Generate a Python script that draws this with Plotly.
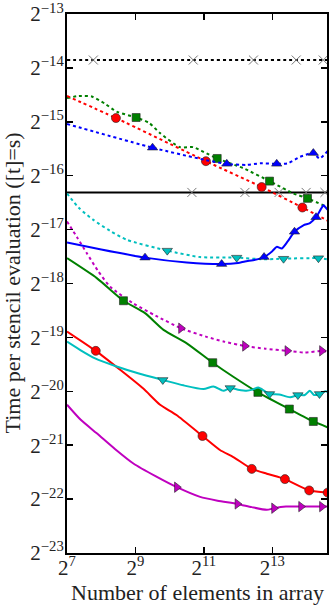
import numpy as np
import plotly.graph_objects as go

# ---- data (log2 of x = number of elements, log2 of y = time per stencil evaluation) ----
x_tick_exps = [7, 9, 11, 13]
y_tick_exps = list(range(-23, -12))

black_dot_x = [7.0, 7.77, 10.69, 12.45, 13.70, 14.49, 14.7]
black_dot_y = [-13.853, -13.853, -13.853, -13.853, -13.853, -13.853, -13.853]
black_dot_mk = [1, 2, 3, 4, 5]

black_sol_x = [7.0, 10.65, 12.20, 13.20, 13.99, 14.54, 14.7]
black_sol_y = [-16.31, -16.31, -16.31, -16.31, -16.31, -16.31, -16.31]
black_sol_mk = [1, 2, 3, 4, 5]

green_dot_x = [7.0, 7.35, 7.72, 8.1, 8.45, 9.02, 9.4, 9.72, 10.3, 10.69, 11.0, 11.39, 12.15, 12.92, 13.62, 14.03, 14.7]
green_dot_y = [-14.56, -14.52, -14.53, -14.66, -14.81, -14.92, -15.02, -15.21, -15.47, -15.47, -15.56, -15.68, -15.86, -16.10, -16.33, -16.42, -16.61]
green_dot_mk = [5, 11, 13, 15]

red_dot_x = [7.0, 8.43, 11.06, 12.69, 13.88, 14.7]
red_dot_y = [-14.52, -14.93, -15.73, -16.21, -16.59, -16.86]
red_dot_mk = [1, 2, 3, 4]

blue_dot_x = [7.0, 9.5, 11.06, 11.67, 12.25, 12.64, 13.13, 13.45, 13.81, 14.2, 14.38, 14.7]
blue_dot_y = [-15.04, -15.48, -15.71, -15.78, -15.80, -15.77, -15.78, -15.77, -15.65, -15.58, -15.68, -15.48]
blue_dot_mk = [1, 3, 6, 9]

cyan_dot_x = [7.0, 7.35, 7.77, 8.25, 8.75, 9.93, 10.89, 11.96, 12.74, 13.33, 14.35, 14.7]
cyan_dot_y = [-16.33, -16.6, -16.82, -17.02, -17.19, -17.39, -17.51, -17.52, -17.55, -17.54, -17.53, -17.56]
cyan_dot_mk = [5, 7, 9, 10]

magenta_dot_x = [7.0, 7.3, 7.58, 7.9, 8.26, 8.94, 9.6, 10.33, 11.08, 11.6, 12.2, 12.8, 13.44, 13.96, 14.45, 14.7]
magenta_dot_y = [-16.85, -17.15, -17.44, -17.76, -18.06, -18.37, -18.6, -18.83, -18.99, -19.08, -19.16, -19.21, -19.25, -19.28, -19.25, -19.28]
magenta_dot_mk = [7, 10, 12, 14]

blue_sol_x = [7.0, 8.0, 9.28, 10.5, 11.52, 12.0, 12.2, 12.5, 12.76, 13.0, 13.13, 13.28, 13.45, 13.65, 13.91, 14.1, 14.28, 14.42, 14.5, 14.6, 14.7]
blue_sol_y = [-17.24, -17.37, -17.52, -17.61, -17.64, -17.62, -17.59, -17.56, -17.51, -17.4, -17.32, -17.35, -17.22, -17.04, -16.92, -16.88, -16.77, -16.62, -16.55, -16.62, -16.64]
blue_sol_mk = [2, 4, 8, 13, 16]

green_sol_x = [7.0, 7.87, 8.65, 9.28, 9.82, 10.5, 11.26, 11.86, 12.58, 13.5, 14.2, 14.7]
green_sol_y = [-17.53, -17.9, -18.32, -18.55, -18.86, -19.11, -19.47, -19.73, -20.02, -20.33, -20.56, -20.69]
green_sol_mk = [2, 6, 8, 9, 10]

red_sol_x = [7.0, 7.84, 8.55, 9.23, 9.72, 10.2, 10.96, 11.47, 11.86, 12.4, 12.84, 13.37, 14.08, 14.62, 14.7]
red_sol_y = [-18.89, -19.25, -19.6, -19.95, -20.25, -20.44, -20.83, -21.09, -21.22, -21.44, -21.53, -21.63, -21.84, -21.88, -21.89]
red_sol_mk = [1, 6, 9, 11, 12, 13]

cyan_sol_x = [7.0, 7.4, 7.82, 8.45, 9.1, 9.8, 10.4, 10.99, 11.28, 11.57, 11.77, 12.0, 12.25, 12.42, 12.59, 12.92, 13.2, 13.52, 13.75, 13.95, 14.1, 14.22, 14.38, 14.55, 14.7]
cyan_sol_y = [-19.08, -19.24, -19.39, -19.54, -19.67, -19.79, -19.89, -19.96, -19.91, -19.99, -19.94, -19.97, -19.99, -19.97, -19.93, -20.05, -20.06, -20.11, -20.07, -20.07, -19.99, -20.07, -20.05, -20.0, -20.03]
cyan_sol_mk = [5, 10, 15, 18, 22]

magenta_sol_x = [7.0, 7.4, 7.87, 8.4, 8.94, 9.6, 10.21, 10.89, 11.4, 11.98, 12.4, 12.84, 13.05, 13.4, 13.84, 14.45, 14.7]
magenta_sol_y = [-20.25, -20.53, -20.78, -21.07, -21.34, -21.58, -21.78, -21.96, -22.03, -22.09, -22.15, -22.2, -22.17, -22.14, -22.14, -22.14, -22.14]
magenta_sol_mk = [6, 9, 12, 14, 15]

x_title = "Number of elements in array"
y_title = "Time per stencil evaluation ([t]=s)"

BLUE, GREEN, RED, CYAN, MAGENTA, BLACK = "#0000ff", "#008000", "#ff0000", "#00bfbf", "#bf00bf", "#000000"

series = [
    (black_dot_x, black_dot_y, black_dot_mk, BLACK, "dot", "x-thin-open"),
    (black_sol_x, black_sol_y, black_sol_mk, BLACK, "solid", "x-thin-open"),
    (green_dot_x, green_dot_y, green_dot_mk, GREEN, "dot", "square"),
    (red_dot_x, red_dot_y, red_dot_mk, RED, "dot", "circle"),
    (blue_dot_x, blue_dot_y, blue_dot_mk, BLUE, "dot", "triangle-up"),
    (cyan_dot_x, cyan_dot_y, cyan_dot_mk, CYAN, "dot", "triangle-down"),
    (magenta_dot_x, magenta_dot_y, magenta_dot_mk, MAGENTA, "dot", "triangle-right"),
    (blue_sol_x, blue_sol_y, blue_sol_mk, BLUE, "solid", "triangle-up"),
    (green_sol_x, green_sol_y, green_sol_mk, GREEN, "solid", "square"),
    (red_sol_x, red_sol_y, red_sol_mk, RED, "solid", "circle"),
    (cyan_sol_x, cyan_sol_y, cyan_sol_mk, CYAN, "solid", "triangle-down"),
    (magenta_sol_x, magenta_sol_y, magenta_sol_mk, MAGENTA, "solid", "triangle-right"),
]

fig = go.Figure()
for xs, ys, mk, color, dash, sym in series:
    X = np.power(2.0, np.array(xs))
    Y = np.power(2.0, np.array(ys))
    fig.add_trace(go.Scatter(
        x=X, y=Y, mode="lines",
        line=dict(color=color, width=2, dash=("3px,3px" if dash == "dot" else "solid"),
                  shape="spline", smoothing=0.6),
        hoverinfo="skip", showlegend=False))
    if sym.startswith("x"):
        marker = dict(symbol=sym, size=9, color="#777777", line=dict(color="#777777", width=1))
    else:
        sz = 8 if sym == "square" else 9
        marker = dict(symbol=sym, size=sz, color=color, line=dict(color="#222222", width=0.6))
    fig.add_trace(go.Scatter(
        x=X[mk], y=Y[mk], mode="markers", marker=marker,
        hoverinfo="skip", showlegend=False))

L2 = np.log10(2.0)
FONT = "Liberation Serif"

fig.update_xaxes(
    type="log", range=[6.999 * L2, 14.6 * L2], automargin=False,
    tickvals=[2.0 ** k for k in x_tick_exps],
    ticktext=[f"2<sup>{k}</sup>" for k in x_tick_exps],
    ticks="inside", ticklen=6, tickwidth=1.5, tickcolor="black",
    showline=True, linecolor="black", linewidth=2, mirror="ticks",
    showgrid=False, zeroline=False, ticklabeloverflow="allow", ticklabelstandoff=-5,
    tickfont=dict(family=FONT, size=21, color="#222"),
)
fig.update_yaxes(
    type="log", range=[-23.001 * L2, -12.999 * L2], automargin=False,
    tickvals=[2.0 ** k for k in y_tick_exps],
    ticktext=[f"2<sup>\u2212{-k}</sup>" for k in y_tick_exps],
    ticks="inside", ticklen=6, tickwidth=1.5, tickcolor="black",
    showline=True, linecolor="black", linewidth=2, mirror="ticks",
    showgrid=False, zeroline=False, ticklabeloverflow="allow", ticklabelstandoff=-3,
    tickfont=dict(family=FONT, size=21, color="#222"),
)
fig.add_annotation(text=x_title, xref="paper", yref="paper", x=0.5, y=0,
                   xanchor="center", yanchor="middle", yshift=-39, showarrow=False,
                   font=dict(family=FONT, size=22, color="#222"))
fig.add_annotation(text=y_title, xref="paper", yref="paper", x=0, y=0.5,
                   xanchor="center", yanchor="middle", xshift=-55, yshift=0,
                   textangle=-90, showarrow=False,
                   font=dict(family=FONT, size=22, color="#222"))
fig.update_layout(
    width=332, height=607,
    margin=dict(l=67, r=5, t=14, b=54, autoexpand=False),
    paper_bgcolor="white", plot_bgcolor="white",
)
fig.write_html("out.html", config={"displayModeBar": False, "staticPlot": True},
               post_script="document.body.style.margin='0';document.body.style.overflow='hidden';")
